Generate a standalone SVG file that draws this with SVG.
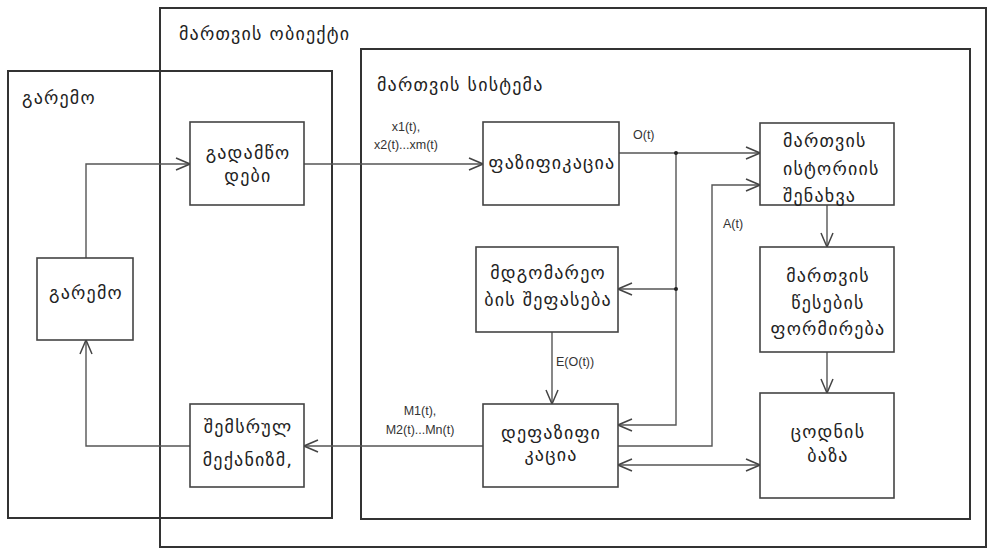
<svg xmlns="http://www.w3.org/2000/svg" width="988" height="552" viewBox="0 0 988 552">
<style>
.frame{fill:none;stroke:#333;stroke-width:2}
.box{fill:#fff;stroke:#444;stroke-width:1.6}
.ka{font-family:"DejaVu Sans",sans-serif;font-size:18px;letter-spacing:1.2px;fill:#222}
.lbl{font-family:"Liberation Sans",Arial,sans-serif;font-size:12.5px;fill:#333}
.ln{fill:none;stroke:#555;stroke-width:1.4}
</style>
<defs>
<marker id="ah" viewBox="0 0 16 14" refX="15" refY="7" markerWidth="16" markerHeight="14" markerUnits="userSpaceOnUse" orient="auto-start-reverse">
<path d="M1,1 L15,7 L1,13" fill="none" stroke="#444" stroke-width="1.5"/>
</marker>
</defs>
<rect width="988" height="552" fill="#fff"/>
<g id="object-frame">
<rect class="frame" x="160" y="8" width="826" height="539" stroke="#555"/>
<text class="ka" x="179" y="40">მართვის ობიექტი</text>
</g>
<g id="environment-frame">
<rect class="frame" x="8" y="71" width="324" height="447"/>
<text class="ka" x="22" y="104">გარემო</text>
</g>
<g id="system-frame">
<rect class="frame" x="361" y="49" width="609" height="470"/>
<text class="ka" x="377" y="91">მართვის სისტემა</text>
</g>
<g id="connectors">
<polyline class="ln" points="86,258 86,164 190,164" marker-end="url(#ah)"/>
<line class="ln" x1="304" y1="164" x2="483" y2="164" marker-end="url(#ah)"/>
<line class="ln" x1="619" y1="153" x2="760" y2="153" marker-end="url(#ah)"/>
<polyline class="ln" points="676,153 676,425 618,425" marker-end="url(#ah)"/>
<line class="ln" x1="676" y1="289" x2="618" y2="289" marker-end="url(#ah)"/>
<circle cx="676" cy="153" r="2" fill="#222"/>
<circle cx="676" cy="289" r="2" fill="#222"/>
<line class="ln" x1="552" y1="332" x2="552" y2="404" marker-end="url(#ah)"/>
<polyline class="ln" points="618,446 712,446 712,185 760,185" marker-end="url(#ah)"/>
<line class="ln" x1="618" y1="465" x2="760" y2="465" marker-start="url(#ah)" marker-end="url(#ah)"/>
<line class="ln" x1="827" y1="205" x2="827" y2="247" marker-end="url(#ah)"/>
<line class="ln" x1="827" y1="352" x2="827" y2="393" marker-end="url(#ah)"/>
<line class="ln" x1="483" y1="446" x2="304" y2="446" marker-end="url(#ah)"/>
<polyline class="ln" points="190,446 86,446 86,340" marker-end="url(#ah)"/>
<text class="lbl" x="406" y="131" text-anchor="middle">x1(t),</text>
<text class="lbl" x="406" y="149" text-anchor="middle">x2(t)...xm(t)</text>
<text class="lbl" x="633" y="139">O(t)</text>
<text class="lbl" x="556" y="366">E(O(t))</text>
<text class="lbl" x="723" y="228">A(t)</text>
<text class="lbl" x="420" y="415" text-anchor="middle">M1(t),</text>
<text class="lbl" x="420" y="434" text-anchor="middle">M2(t)...Mn(t)</text>
</g>
<g id="sensors">
<rect class="box" x="190" y="122" width="114" height="83"/>
<text class="ka" x="248" y="159" text-anchor="middle">გადამწო</text>
<text class="ka" x="248" y="182" text-anchor="middle">დები</text>
</g>
<g id="environment">
<rect class="box" x="37" y="258" width="96" height="82"/>
<text class="ka" x="86" y="299" text-anchor="middle">გარემო</text>
</g>
<g id="actuators">
<rect class="box" x="190" y="404" width="114" height="83"/>
<text class="ka" x="248" y="433" text-anchor="middle">შემსრულ</text>
<text class="ka" x="248" y="466" text-anchor="middle">მექანიზმ,</text>
</g>
<g id="fuzzification">
<rect class="box" x="483" y="122" width="136" height="83"/>
<text class="ka" x="552" y="169" text-anchor="middle">ფაზიფიკაცია</text>
</g>
<g id="state-assessment">
<rect class="box" x="476" y="247" width="142" height="85"/>
<text class="ka" x="548" y="279" text-anchor="middle">მდგომარეო</text>
<text class="ka" x="548" y="306" text-anchor="middle">ბის შეფასება</text>
</g>
<g id="defuzzification">
<rect class="box" x="483" y="404" width="135" height="83"/>
<text class="ka" x="551" y="439" text-anchor="middle">დეფაზიფი</text>
<text class="ka" x="551" y="461" text-anchor="middle">კაცია</text>
</g>
<g id="history">
<rect class="box" x="760" y="123" width="134" height="82"/>
<text class="ka" x="783" y="147">მართვის</text>
<text class="ka" x="783" y="175">ისტორიის</text>
<text class="ka" x="783" y="202">შენახვა</text>
</g>
<g id="rules">
<rect class="box" x="760" y="247" width="134" height="105"/>
<text class="ka" x="828" y="282" text-anchor="middle">მართვის</text>
<text class="ka" x="828" y="309" text-anchor="middle">წესების</text>
<text class="ka" x="828" y="335" text-anchor="middle">ფორმირება</text>
</g>
<g id="knowledge-base">
<rect class="box" x="760" y="393" width="134" height="105"/>
<text class="ka" x="828" y="438" text-anchor="middle">ცოდნის</text>
<text class="ka" x="828" y="462" text-anchor="middle">ბაზა</text>
</g>
</svg>
